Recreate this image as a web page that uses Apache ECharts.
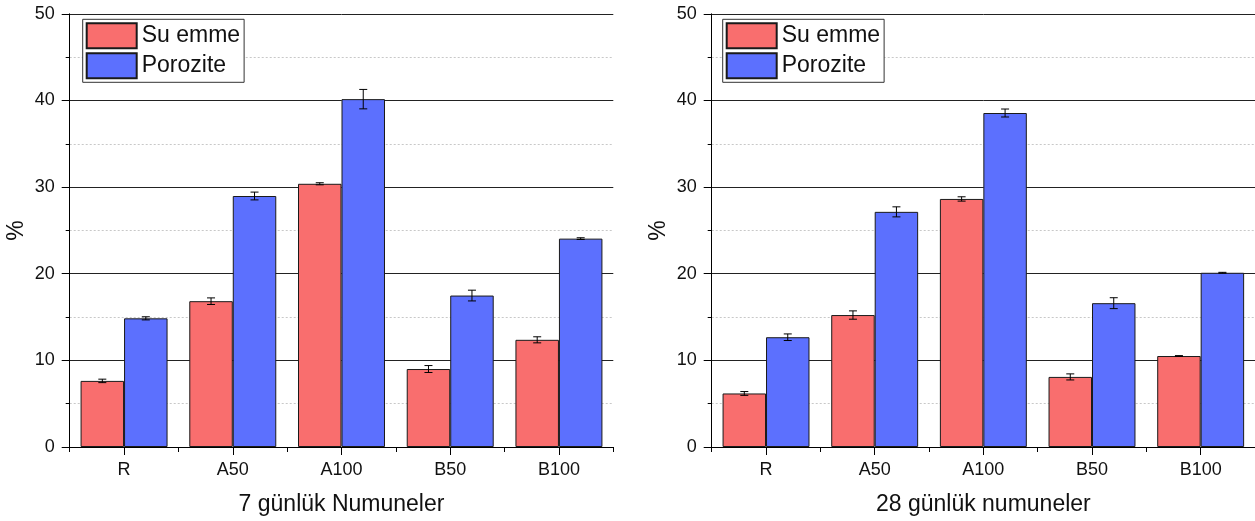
<!DOCTYPE html>
<html>
<head>
<meta charset="utf-8">
<script src="https://cdn.jsdelivr.net/npm/echarts@6/dist/echarts.min.js"></script>
<style>
  html, body { margin: 0; padding: 0; background: #fff; }
  #chart { width: 1255px; height: 521px; }
</style>
</head>
<body>
<div id="chart"></div>
<script>
// Sample groups
const categories = ['R', 'A50', 'A100', 'B50', 'B100'];

// 7-day specimens (%)
const suEmme7 = [7.63, 16.83, 30.38, 9.0, 12.37];
const suEmme7Err = [0.2, 0.38, 0.12, 0.4, 0.35];
const porozite7 = [14.85, 28.97, 40.15, 17.48, 24.05];
const porozite7Err = [0.18, 0.45, 1.12, 0.62, 0.1];

// 28-day specimens (%)
const suEmme28 = [6.18, 15.23, 28.63, 8.09, 10.5];
const suEmme28Err = [0.22, 0.48, 0.25, 0.35, 0.05];
const porozite28 = [12.67, 27.14, 38.55, 16.6, 20.11];
const porozite28Err = [0.38, 0.58, 0.46, 0.63, 0.05];

const yTicks = { min: 0, max: 50, interval: 10 };
const seriesNames = ['Su emme', 'Porozite'];
const xTitles = ['7 günlük Numuneler', '28 günlük numuneler'];

const FONT = 'Liberation Sans, Arial, Helvetica, sans-serif';
const RED = '#F96E6E';
const BLUE = '#5C70FE';

const chart = echarts.init(document.getElementById('chart'), null, { renderer: 'canvas' });

// Error bar data rows: [category index, low, high]
function errRows(vals, errs) {
  return vals.map((v, i) => [i, v - errs[i], v + errs[i]]);
}

// Vertical error bar with caps, shifted to the centre of the red (-1) or blue (+1) bar
function errorBarRenderer(side) {
  return function (params, api) {
    const idx = api.value(0);
    const lo = api.coord([idx, api.value(1)]);
    const hi = api.coord([idx, api.value(2)]);
    const band = api.size([1, 0])[0];
    const cx = lo[0] + side * band * 0.2;
    const cap = 4;
    const style = { stroke: '#000', lineWidth: 1 };
    return {
      type: 'group',
      children: [
        { type: 'line', shape: { x1: cx, y1: lo[1], x2: cx, y2: hi[1] }, style },
        { type: 'line', shape: { x1: cx - cap, y1: hi[1], x2: cx + cap, y2: hi[1] }, style },
        { type: 'line', shape: { x1: cx - cap, y1: lo[1], x2: cx + cap, y2: lo[1] }, style }
      ]
    };
  };
}

function mainXAxis(gridIndex, title) {
  return {
    type: 'category', gridIndex, data: categories, position: 'bottom',
    axisLine: { show: true, lineStyle: { color: '#000', width: 1 } },
    axisTick: { show: true, alignWithLabel: true, length: 8, lineStyle: { color: '#000' } },
    axisLabel: { fontSize: 18, color: '#111', margin: 14, fontFamily: FONT },
    splitLine: { show: false },
    name: title, nameLocation: 'middle', nameGap: 46,
    nameTextStyle: { fontSize: 23, color: '#111', fontFamily: FONT }
  };
}

// Shorter ticks on the category boundaries
function boundaryXAxis(gridIndex) {
  return {
    type: 'category', gridIndex, data: categories, position: 'bottom',
    axisLine: { show: false },
    axisTick: { show: true, alignWithLabel: false, length: 5, lineStyle: { color: '#000' } },
    axisLabel: { show: false },
    splitLine: { show: false }
  };
}

function yAxis(gridIndex) {
  return {
    type: 'value', gridIndex, min: yTicks.min, max: yTicks.max, interval: yTicks.interval,
    axisLine: { show: true, lineStyle: { color: '#000', width: 1 } },
    axisTick: { show: true, length: 8, lineStyle: { color: '#000' } },
    minorTick: { show: true, splitNumber: 2, length: 4, lineStyle: { color: '#000' } },
    splitLine: { show: true, lineStyle: { color: '#222', width: 1 } },
    minorSplitLine: { show: true, lineStyle: { color: '#c8c8c8', width: 1, type: [2, 2] } },
    axisLabel: { fontSize: 18, color: '#111', margin: 15, fontFamily: FONT },
    name: '%', nameLocation: 'middle', nameGap: 42,
    nameTextStyle: { fontSize: 23, color: '#111', fontFamily: FONT }
  };
}

function legend(left) {
  return {
    left, top: 19.3, orient: 'vertical',
    data: seriesNames, icon: 'rect',
    itemWidth: 50, itemHeight: 25, itemGap: 3,
    padding: [3, 4, 3, 3],
    borderColor: '#333', borderWidth: 1, backgroundColor: '#fff',
    textStyle: { fontSize: 23, color: '#111', fontFamily: FONT },
    selectedMode: false
  };
}

function barSeries(name, data, color, gridIdx) {
  return {
    type: 'bar', name, data,
    xAxisIndex: gridIdx * 2, yAxisIndex: gridIdx,
    barGap: '0%', barCategoryGap: '20%',
    itemStyle: { color, borderColor: '#1a1a1a', borderWidth: 1 },
    z: 2
  };
}

function errSeries(name, rows, side, gridIdx) {
  return {
    type: 'custom', name, data: rows,
    xAxisIndex: gridIdx * 2, yAxisIndex: gridIdx,
    encode: { x: 0, y: [1, 2] },
    renderItem: errorBarRenderer(side),
    z: 5
  };
}

chart.setOption({
  animation: false,
  backgroundColor: '#fff',
  textStyle: { fontFamily: FONT },
  grid: [
    { left: 69.7, top: 13.8, width: 543.6, height: 436.5 },
    { left: 711.7, top: 13.8, width: 543.3, height: 436.5 }
  ],
  xAxis: [
    mainXAxis(0, xTitles[0]), boundaryXAxis(0),
    mainXAxis(1, xTitles[1]), boundaryXAxis(1)
  ],
  yAxis: [yAxis(0), yAxis(1)],
  legend: [legend(82.7), legend(722.7)],
  series: [
    barSeries(seriesNames[0], suEmme7, RED, 0),
    barSeries(seriesNames[1], porozite7, BLUE, 0),
    errSeries('err-su-7', errRows(suEmme7, suEmme7Err), -1, 0),
    errSeries('err-por-7', errRows(porozite7, porozite7Err), 1, 0),
    barSeries(seriesNames[0], suEmme28, RED, 1),
    barSeries(seriesNames[1], porozite28, BLUE, 1),
    errSeries('err-su-28', errRows(suEmme28, suEmme28Err), -1, 1),
    errSeries('err-por-28', errRows(porozite28, porozite28Err), 1, 1)
  ]
});
</script>
</body>
</html>
